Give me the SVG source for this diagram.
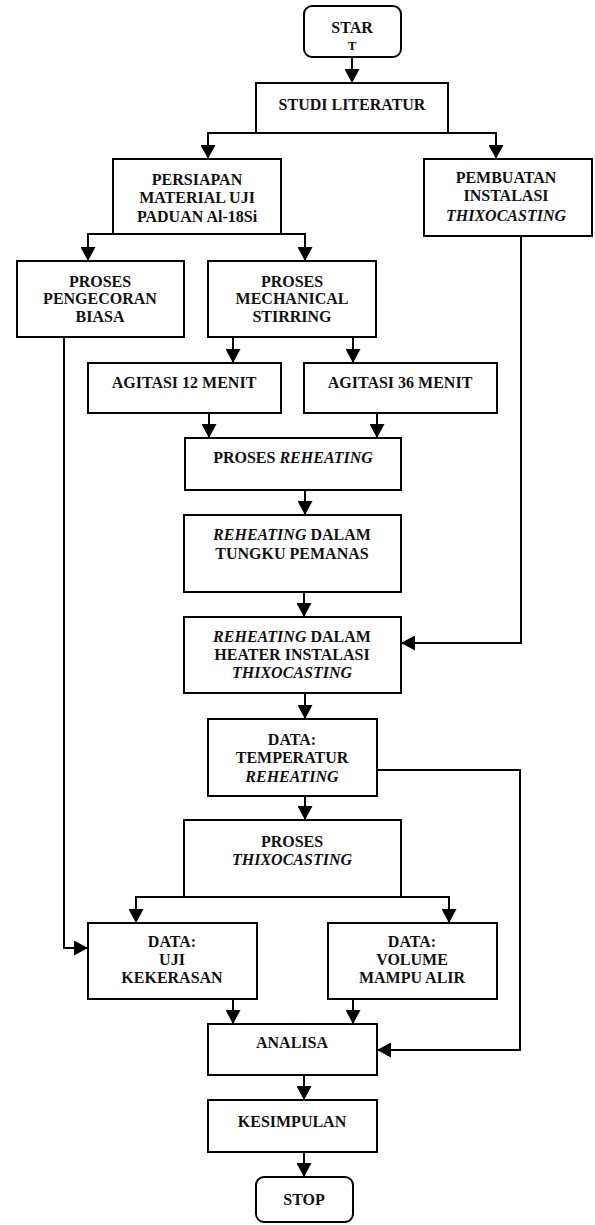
<svg xmlns="http://www.w3.org/2000/svg" width="595" height="1225" viewBox="0 0 595 1225">
<style>
.box{fill:#fff;stroke:#000;stroke-width:2}
.c{fill:none;stroke:#000;stroke-width:2}
text{font-family:"Liberation Serif","Times New Roman",serif;font-weight:bold;font-size:16px;text-anchor:middle;fill:#111}
.i{font-style:italic}
</style>
<defs>
<marker id="ah" viewBox="0 0 14 15" refX="14" refY="7.5" markerWidth="14" markerHeight="15" markerUnits="userSpaceOnUse" orient="auto">
<path d="M0,0 L14,7.5 L0,15 z" fill="#000"/>
</marker>
</defs>
<g id="connectors">
<path class="c" d="M352,57 V83" marker-end="url(#ah)"/>
<path class="c" d="M352,133 H208 V159" marker-end="url(#ah)"/>
<path class="c" d="M352,133 H496 V159" marker-end="url(#ah)"/>
<path class="c" d="M197,234 H88 V261" marker-end="url(#ah)"/>
<path class="c" d="M197,234 H305 V261" marker-end="url(#ah)"/>
<path class="c" d="M233,337 V363" marker-end="url(#ah)"/>
<path class="c" d="M353,337 V363" marker-end="url(#ah)"/>
<path class="c" d="M209,413 V438" marker-end="url(#ah)"/>
<path class="c" d="M377,413 V438" marker-end="url(#ah)"/>
<path class="c" d="M305,490 V515" marker-end="url(#ah)"/>
<path class="c" d="M304,592 V617" marker-end="url(#ah)"/>
<path class="c" d="M521,236 V643 H401" marker-end="url(#ah)"/>
<path class="c" d="M305,693 V719" marker-end="url(#ah)"/>
<path class="c" d="M305,796 V820" marker-end="url(#ah)"/>
<path class="c" d="M377,770 H520 V1050 H377" marker-end="url(#ah)"/>
<path class="c" d="M184,897 H136 V923" marker-end="url(#ah)"/>
<path class="c" d="M401,897 H449 V923" marker-end="url(#ah)"/>
<path class="c" d="M64,337 V948 H88" marker-end="url(#ah)"/>
<path class="c" d="M233,999 V1024" marker-end="url(#ah)"/>
<path class="c" d="M353,999 V1024" marker-end="url(#ah)"/>
<path class="c" d="M304,1075 V1100" marker-end="url(#ah)"/>
<path class="c" d="M304,1152 V1177" marker-end="url(#ah)"/>
</g>
<g id="start"><rect class="box" x="304" y="6" width="97" height="51" rx="8"/><text x="352" y="33">STAR</text><text x="352" y="50" style="font-size:13px">T</text></g>
<g id="studi"><rect class="box" x="256" y="83" width="192" height="50"/><text x="352" y="110">STUDI LITERATUR</text></g>
<g id="persiapan"><rect class="box" x="113" y="159" width="168" height="75"/><text x="197" y="185">PERSIAPAN</text><text x="197" y="203">MATERIAL UJI</text><text x="197" y="222">PADUAN Al-18Si</text></g>
<g id="pembuatan"><rect class="box" x="424" y="159" width="168" height="77"/><text x="506" y="183">PEMBUATAN</text><text x="506" y="201">INSTALASI</text><text x="506" y="221" class="i">THIXOCASTING</text></g>
<g id="pengecoran"><rect class="box" x="17" y="261" width="167" height="76"/><text x="100" y="287">PROSES</text><text x="100" y="304">PENGECORAN</text><text x="100" y="322">BIASA</text></g>
<g id="mechanical"><rect class="box" x="208" y="261" width="168" height="76"/><text x="292" y="287">PROSES</text><text x="292" y="304">MECHANICAL</text><text x="292" y="322">STIRRING</text></g>
<g id="agitasi12"><rect class="box" x="88" y="363" width="193" height="50"/><text x="184" y="388">AGITASI 12 MENIT</text></g>
<g id="agitasi36"><rect class="box" x="304" y="363" width="193" height="50"/><text x="400" y="388">AGITASI 36 MENIT</text></g>
<g id="reheating"><rect class="box" x="185" y="438" width="216" height="52"/><text x="293" y="463">PROSES <tspan class="i">REHEATING</tspan></text></g>
<g id="tungku"><rect class="box" x="184" y="515" width="217" height="77"/><text x="292" y="540"><tspan class="i">REHEATING</tspan> DALAM</text><text x="292" y="559">TUNGKU PEMANAS</text></g>
<g id="heater"><rect class="box" x="184" y="617" width="217" height="76"/><text x="292" y="642"><tspan class="i">REHEATING</tspan> DALAM</text><text x="292" y="660">HEATER INSTALASI</text><text x="292" y="678" class="i">THIXOCASTING</text></g>
<g id="temperatur"><rect class="box" x="208" y="719" width="169" height="77"/><text x="292" y="745">DATA:</text><text x="292" y="763">TEMPERATUR</text><text x="292" y="782" class="i">REHEATING</text></g>
<g id="thixocasting"><rect class="box" x="184" y="820" width="217" height="77"/><text x="292" y="847">PROSES</text><text x="292" y="865" class="i">THIXOCASTING</text></g>
<g id="uji"><rect class="box" x="88" y="923" width="169" height="76"/><text x="172" y="947">DATA:</text><text x="172" y="965">UJI</text><text x="172" y="983">KEKERASAN</text></g>
<g id="volume"><rect class="box" x="328" y="923" width="169" height="76"/><text x="412" y="947">DATA:</text><text x="412" y="965">VOLUME</text><text x="412" y="983">MAMPU ALIR</text></g>
<g id="analisa"><rect class="box" x="208" y="1024" width="169" height="51"/><text x="292" y="1048">ANALISA</text></g>
<g id="kesimpulan"><rect class="box" x="208" y="1100" width="169" height="52"/><text x="292" y="1127">KESIMPULAN</text></g>
<g id="stop"><rect class="box" x="256" y="1177" width="97" height="45" rx="8"/><text x="304" y="1205">STOP</text></g>
</svg>
